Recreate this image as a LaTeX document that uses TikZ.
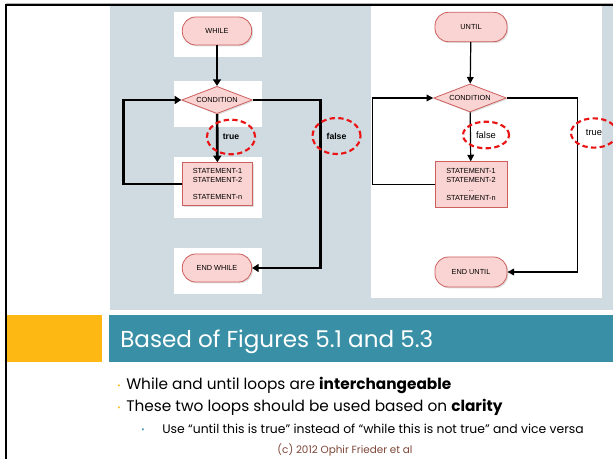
\documentclass[tikz,border=0pt]{standalone}
\usepackage{fontspec}
\setmainfont{Poppins}
\newfontfamily\flowfont{Liberation Sans}
\usetikzlibrary{arrows.meta,shapes.geometric,shadows}

\definecolor{panelgray}{RGB}{207,219,225}
\definecolor{titleteal}{RGB}{57,144,166}
\definecolor{baramber}{RGB}{253,184,19}
\definecolor{boxpink}{RGB}{250,212,210}
\definecolor{boxedge}{RGB}{205,95,95}
\definecolor{footbrown}{RGB}{125,70,55}
\definecolor{markred}{RGB}{235,20,20}

\begin{document}
\begin{tikzpicture}[x=0.75pt, y=-0.75pt,
    flowtext/.style={font=\flowfont\fontsize{5.5}{6.8}\selectfont, text=black},
    terminal/.style={flowtext, draw=boxedge, fill=boxpink, line width=0.6pt,
        rounded corners=10pt, minimum width=52pt, minimum height=21pt, inner sep=0pt,
        drop shadow={opacity=0.25, shadow xshift=1pt, shadow yshift=-1pt}},
    decision/.style={flowtext, diamond, draw=boxedge, fill=boxpink, line width=0.6pt,
        aspect=2.6, minimum width=53pt, minimum height=20.5pt, inner sep=0pt,
        drop shadow={opacity=0.25, shadow xshift=1pt, shadow yshift=-1pt}},
    process/.style={flowtext, align=center, draw=boxedge, fill=boxpink, line width=0.6pt,
        minimum width=52pt, minimum height=32pt, inner sep=1pt,
        drop shadow={opacity=0.25, shadow xshift=1pt, shadow yshift=-1pt}},
    heavyflow/.style={line width=2pt, -{Triangle[length=5pt,width=6pt]}},
    lightflow/.style={line width=0.9pt, -{Triangle[length=5pt,width=5pt]}},
    markring/.style={ellipse, draw=markred, line width=1.6pt, dash pattern=on 4pt off 2.5pt,
        inner sep=0pt, font=\flowfont\fontsize{7}{8}\selectfont},
    bodytext/.style={anchor=base west, inner sep=0pt},
    bulletdot/.style={anchor=base west, inner sep=0pt, font=\fontsize{6}{6}\selectfont}]

    \useasboundingbox (0,0) rectangle (613,459);

    % Draw the panels
    \fill[panelgray] (110,6) rectangle (613,310);
    \fill[white] (371,6) rectangle (602,298);
    \foreach \top/\bot in {12/57, 81/127, 157/218, 248/294}
        \fill[white] (174,\top) rectangle (262,\bot);

    % Draw the frame
    \draw[gray!60, line width=0.8pt] (6,3.5) -- (613,3.5);
    \draw[black, line width=1.6pt] (6,459) -- (6,5) -- (613,5);

    % Draw the WHILE chart
    \node[terminal] (while) at (217,31) {WHILE};
    \node[decision] (cond) at (217,100) {CONDITION};
    \node[process] (body) at (217.5,184) {STATEMENT-1\\STATEMENT-2\\[6pt]STATEMENT-n};
    \node[terminal] (endwhile) at (217,268) {END WHILE};

    \draw[heavyflow] (while) -- (cond);
    \draw[heavyflow] (cond) -- (body);
    \draw[heavyflow] (body.west) -- ++(-59,0) |- (cond.west);
    \draw[heavyflow] (cond.east) -- ++(68,0) |- (endwhile.east);

    \node[markring, minimum width=36pt, minimum height=26pt, font=\flowfont\bfseries\fontsize{6.5}{8}\selectfont]
        (wtrue) at (231,137) {true};
    \node[markring, minimum width=36pt, minimum height=27pt, font=\flowfont\bfseries\fontsize{6.5}{8}\selectfont]
        (wfalse) at (336.5,136) {false};

    % Draw the UNTIL chart
    \node[terminal, minimum width=54pt, minimum height=22pt] (until) at (471,27) {UNTIL};
    \node[decision, minimum width=54.5pt, minimum height=21pt] (cond2) at (470,98) {CONDITION};
    \node[process, minimum width=54pt, minimum height=34pt] (body2) at (471,184.5)
        {STATEMENT-1\\STATEMENT-2\\..\\STATEMENT-n};
    \node[terminal, minimum width=54pt, minimum height=22.5pt] (enduntil) at (471,272) {END UNTIL};

    \draw[lightflow] (until) -- (cond2);
    \draw[lightflow] (cond2) -- (body2);
    \draw[lightflow] (body2.west) -- ++(-62,0) |- (cond2.west);
    \draw[lightflow] (cond2.east) -- ++(71,0) |- (enduntil.east);

    \node[markring, minimum width=34.5pt, minimum height=20pt] (ufalse) at (486,135) {false};
    \node[markring, minimum width=34.5pt, minimum height=22pt] (utrue) at (594,133) {true};

    % Draw the title bar
    \fill[baramber] (7,315) rectangle (102,362);
    \fill[titleteal] (109,315) rectangle (613,362);
    \node[anchor=base west, inner sep=0pt, text=white, font=\fontsize{17.3}{19}\selectfont]
        (title) at (120,347) {Based of Figures 5.1 and 5.3};

    % Draw the bullet text
    \node[bulletdot, text=baramber] (dot1) at (117,388) {\textbullet};
    \node[bodytext, font=\fontsize{11.5}{13}\selectfont] (line1) at (126,389)
        {While and until loops are \textbf{interchangeable}};
    \node[bulletdot, text=baramber] (dot2) at (117,410) {\textbullet};
    \node[bodytext, font=\fontsize{11.5}{13}\selectfont] (line2) at (126,411)
        {These two loops should be used based on \textbf{clarity}};
    \node[bulletdot, text=titleteal] (dot3) at (141,432) {\textbullet};
    \node[bodytext, font=\fontsize{9.3}{11}\selectfont] (line3) at (162,433)
        {Use “until this is true” instead of “while this is not true” and vice versa};
    \node[anchor=base, inner sep=0pt, text=footbrown, font=\fontsize{7.8}{9}\selectfont] (foot) at (345,453)
        {(c) 2012 Ophir Frieder et al};
\end{tikzpicture}
\end{document}
